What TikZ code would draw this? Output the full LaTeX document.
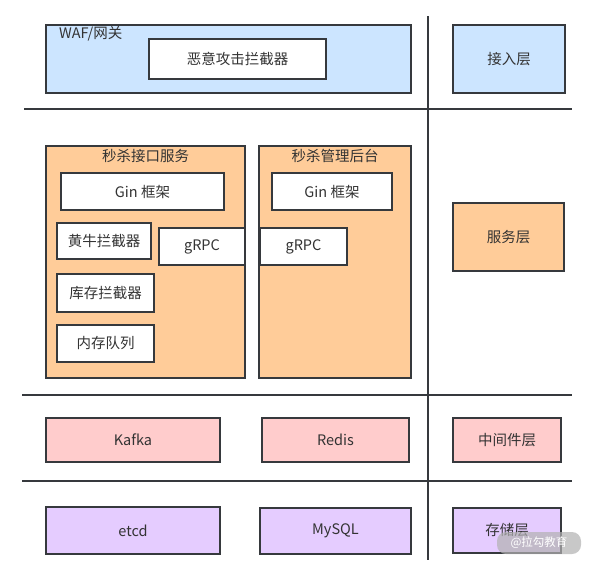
\documentclass[tikz,border=0pt]{standalone}
\usepackage{fontspec}
\setmainfont{Noto Sans CJK SC}
\usetikzlibrary{positioning}
\definecolor{txt}{HTML}{333333}
\definecolor{edge}{HTML}{36393D}
\definecolor{cblue}{HTML}{CCE5FF}
\definecolor{corange}{HTML}{FFCC99}
\definecolor{cpink}{HTML}{FFCCCC}
\definecolor{cpurple}{HTML}{E5CCFF}
\tikzset{
  box/.style={draw=edge, line width=1.6pt, inner sep=0pt, text=txt,
    font=\fontsize{14.5}{17}\selectfont, align=center},
  wbox/.style={box, fill=white},
  sep/.style={draw=edge, line width=1.6pt},
  lbl/.style={text=txt, font=\fontsize{14.5}{17}\selectfont, inner sep=0pt},
}
\begin{document}
\begin{tikzpicture}[x=1pt,y=-1pt]
\useasboundingbox (0,0) rectangle (592,560);
\fill[white] (0,0) rectangle (592,560);
% separators
\coordinate (v1) at (428,16);
\coordinate (v2) at (428,560);
\coordinate (h1a) at (24,109);
\coordinate (h1b) at (572,109);
\coordinate (h2a) at (22,395);
\coordinate (h2b) at (572,395);
\coordinate (h3a) at (22,481);
\coordinate (h3b) at (572,481);
\draw[sep] (v1) -- (v2);
\draw[sep] (h1a) -- (h1b);
\draw[sep] (h2a) -- (h2b);
\draw[sep] (h3a) -- (h3b);
% access layer
\node[box, fill=cblue, minimum width=365pt, minimum height=68pt] (waf) at (228.5,59) {};
\node[lbl, anchor=west] (waflbl) at (59,33.5) {WAF/网关};
\node[wbox, minimum width=177pt, minimum height=40pt] (mal) at (237.5,59) {恶意攻击拦截器};
\node[box, fill=cblue, minimum width=112pt, minimum height=68pt] (acc) at (509,59) {接入层};
% service layer
\node[box, fill=corange, minimum width=199pt, minimum height=232pt] (svc1) at (145.5,262) {};
\node[lbl] (svc1lbl) at (145.5,156) {秒杀接口服务};
\node[wbox, minimum width=163pt, minimum height=37pt] (gin1) at (142.5,191.5) {Gin 框架};
\node[wbox, minimum width=94pt, minimum height=36pt] (hn) at (104,241) {黄牛拦截器};
\node[wbox, minimum width=97pt, minimum height=38pt] (kc) at (105.5,293) {库存拦截器};
\node[wbox, minimum width=97pt, minimum height=37pt] (nc) at (105.5,343.5) {内存队列};
\node[wbox, minimum width=86pt, minimum height=37pt] (grpc1) at (202,246.5) {gRPC};
\node[box, fill=corange, minimum width=152pt, minimum height=232pt] (svc2) at (335,262) {};
\node[lbl] (svc2lbl) at (335,156) {秒杀管理后台};
\node[wbox, minimum width=120pt, minimum height=37pt] (gin2) at (332,191.5) {Gin 框架};
\node[wbox, minimum width=87pt, minimum height=37pt] (grpc2) at (303.5,246.5) {gRPC};
\node[box, fill=corange, minimum width=111pt, minimum height=68pt] (svl) at (508.5,237) {服务层};
% middleware layer
\node[box, fill=cpink, minimum width=174pt, minimum height=44pt] (kafka) at (133,440) {Kafka};
\node[box, fill=cpink, minimum width=147pt, minimum height=44pt] (redis) at (335.5,440) {Redis};
\node[box, fill=cpink, minimum width=108pt, minimum height=44pt] (mid) at (507,440) {中间件层};
% storage layer
\node[box, fill=cpurple, minimum width=174pt, minimum height=47pt] (etcd) at (133,530.5) {etcd};
\node[box, fill=cpurple, minimum width=151pt, minimum height=46pt] (mysql) at (335.5,531) {MySQL};
\node[box, fill=cpurple, minimum width=108pt, minimum height=45pt] (sto) at (507,530.5) {存储层};
% watermark
\node[fill=gray!60, fill opacity=0.7, text opacity=1, text=white, rounded corners=9pt,
  minimum width=84pt, minimum height=22pt, inner sep=0pt,
  font=\fontsize{11.5}{13}\selectfont] (wm) at (539,543) {@拉勾教育};
\end{tikzpicture}
\end{document}
